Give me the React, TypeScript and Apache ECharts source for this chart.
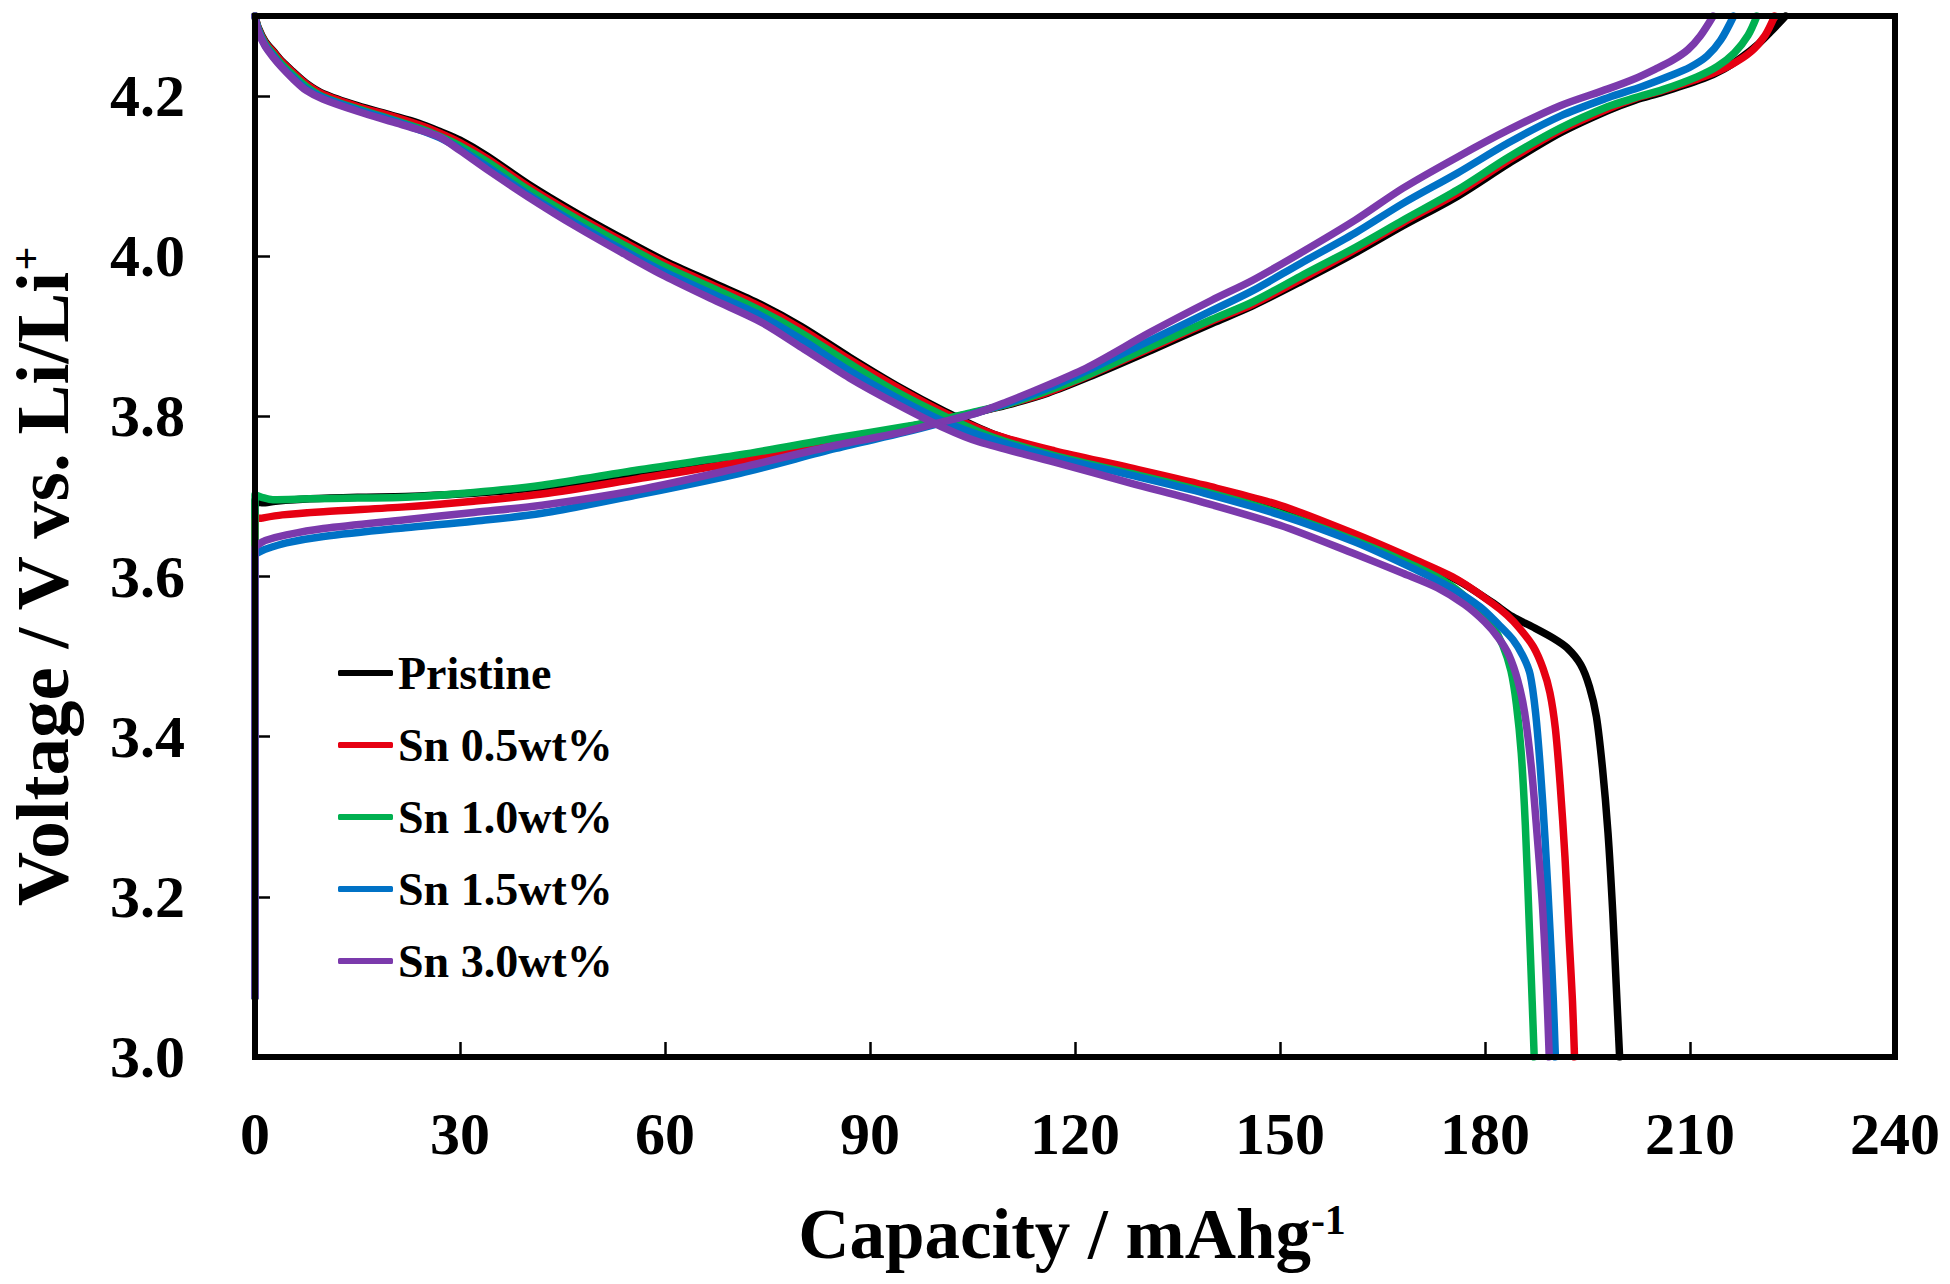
import React, { useEffect, useRef } from "react";
import * as echarts from "echarts";

// ---- tick values ----
const xTicks = [0, 30, 60, 90, 120, 150, 180, 210, 240];
const yTicks = [3.0, 3.2, 3.4, 3.6, 3.8, 4.0, 4.2];

// ---- sample names & colours ----
const sampleNames = ["Pristine", "Sn 0.5wt%", "Sn 1.0wt%", "Sn 1.5wt%", "Sn 3.0wt%"];
const sampleColors = ["#000000", "#e60012", "#00b050", "#0072c6", "#7b3aac"];

// ---- charge curves [capacity, voltage] ----
const pristineCharge = [[0,3.075],[0,3.695],[1,3.692],[3,3.694],[8,3.697],[15,3.699],[22,3.700],[30,3.703],[38,3.708],[45,3.715],[55,3.728],[65,3.741],[75,3.756],[85,3.771],[95,3.786],[100,3.795],[105,3.804],[110,3.814],[116,3.829],[122,3.849],[131,3.882],[140,3.916],[146,3.938],[153,3.968],[161,4.004],[168,4.038],[176,4.075],[183.5,4.116],[191,4.154],[198,4.182],[202,4.195],[206,4.205],[212,4.222],[215,4.234],[217.5,4.248],[220,4.265],[222,4.282],[224,4.300]];
const sn05Charge = [[0,3.075],[0,3.671],[1,3.673],[4,3.677],[10,3.681],[22,3.687],[32,3.694],[42,3.703],[56,3.722],[71,3.743],[85,3.766],[95,3.783],[100,3.793],[105,3.804],[110,3.815],[116,3.830],[122,3.851],[131,3.885],[140,3.919],[146,3.940],[153,3.971],[161,4.008],[168,4.042],[176,4.079],[183.5,4.120],[191,4.157],[198,4.184],[202,4.197],[206,4.207],[212,4.224],[216,4.239],[219,4.256],[221,4.276],[222.4,4.300]];
const sn10Charge = [[0,3.075],[0,3.702],[1,3.699],[2.6,3.696],[8,3.697],[15,3.698],[22,3.699],[32,3.705],[42,3.714],[56,3.733],[71,3.752],[85,3.773],[95,3.787],[100,3.795],[105,3.805],[110,3.815],[116,3.832],[122,3.852],[131,3.887],[140,3.921],[146,3.943],[153,3.975],[161,4.011],[168,4.045],[176,4.083],[183.5,4.124],[191,4.160],[198,4.187],[202,4.198],[206,4.208],[211,4.224],[214,4.237],[216.5,4.254],[218.5,4.276],[219.8,4.300]];
const sn15Charge = [[0,3.075],[0,3.627],[0.5,3.630],[1.5,3.634],[4.6,3.642],[10,3.650],[22,3.661],[32,3.669],[42,3.679],[56,3.702],[71,3.729],[85,3.760],[95,3.780],[100,3.791],[105,3.803],[110,3.816],[116,3.835],[122,3.858],[131,3.895],[140,3.932],[146,3.957],[153,3.991],[161,4.029],[168,4.066],[176,4.104],[183.5,4.142],[191,4.175],[198,4.198],[203,4.212],[207,4.225],[210,4.236],[212.5,4.250],[214.5,4.270],[216.4,4.300]];
const sn30Charge = [[0,3.075],[0,3.636],[0.5,3.640],[1.5,3.645],[4.6,3.652],[10,3.660],[22,3.671],[32,3.680],[42,3.689],[56,3.708],[71,3.736],[85,3.764],[94,3.779],[100,3.792],[105.6,3.804],[110,3.818],[116,3.839],[122,3.862],[131,3.905],[140,3.945],[146,3.970],[153,4.004],[161,4.045],[168,4.085],[176,4.124],[183.5,4.158],[191,4.188],[198,4.209],[202,4.222],[205,4.234],[207.5,4.245],[209.7,4.258],[211.5,4.275],[213.4,4.300]];

// ---- discharge curves [capacity, voltage] ----
const pristineDischarge = [[0,4.300],[0.5,4.285],[1.5,4.268],[2.7,4.256],[4,4.243],[5.5,4.231],[7.5,4.216],[10,4.203],[15,4.188],[20,4.176],[24,4.166],[27,4.156],[30,4.145],[34,4.125],[40,4.090],[47,4.054],[54,4.021],[60,3.994],[67,3.967],[74,3.940],[80,3.912],[87,3.874],[94,3.838],[101,3.806],[108,3.778],[117,3.755],[128,3.733],[139,3.711],[150,3.686],[161,3.650],[170,3.618],[176,3.595],[181,3.568],[184,3.550],[187,3.537],[190,3.523],[192,3.511],[194,3.490],[195.3,3.462],[196.3,3.425],[197.2,3.36],[198,3.28],[198.7,3.18],[199.2,3.09],[199.7,3.0]];
const sn05Discharge = [[0,4.300],[0.5,4.284],[1.5,4.267],[2.7,4.255],[4,4.242],[5.5,4.230],[7.5,4.215],[10,4.202],[15,4.187],[20,4.175],[24,4.164],[27,4.154],[30,4.142],[34,4.122],[40,4.087],[47,4.051],[54,4.018],[60,3.991],[67,3.964],[74,3.937],[80,3.909],[87,3.871],[94,3.836],[101,3.804],[108,3.778],[117,3.757],[128,3.736],[139,3.714],[150,3.689],[161,3.653],[170,3.620],[176,3.596],[181,3.567],[183.2,3.552],[185,3.536],[187.1,3.512],[188.5,3.485],[189.5,3.455],[190.3,3.41],[191,3.34],[191.7,3.25],[192.3,3.15],[192.8,3.07],[193.1,3.0]];
const sn10Discharge = [[0,4.300],[0.5,4.283],[1.5,4.265],[2.7,4.252],[4,4.239],[5.5,4.227],[7.5,4.212],[10,4.199],[15,4.184],[20,4.171],[24,4.160],[27,4.150],[30,4.138],[34,4.118],[40,4.083],[47,4.047],[54,4.014],[60,3.987],[67,3.960],[74,3.932],[80,3.904],[87,3.866],[94,3.830],[101,3.800],[108,3.774],[117,3.751],[128,3.729],[139,3.706],[150,3.679],[161,3.645],[170,3.612],[175,3.589],[179,3.560],[181,3.540],[182.6,3.514],[183.8,3.482],[184.6,3.44],[185.3,3.38],[185.9,3.29],[186.5,3.16],[186.9,3.07],[187.2,3.0]];
const sn15Discharge = [[0,4.300],[0.5,4.282],[1.5,4.263],[2.7,4.250],[4,4.236],[5.5,4.224],[7.5,4.209],[10,4.198],[15,4.183],[20,4.170],[24,4.158],[27,4.148],[30,4.134],[34,4.112],[40,4.077],[47,4.041],[54,4.007],[60,3.980],[67,3.953],[74,3.926],[80,3.896],[87,3.857],[94,3.823],[101,3.793],[108,3.771],[117,3.749],[128,3.727],[139,3.704],[150,3.677],[161,3.643],[170,3.608],[175,3.586],[179.3,3.562],[182,3.540],[184.1,3.521],[185.6,3.500],[186.6,3.478],[187.4,3.43],[188.1,3.36],[188.8,3.27],[189.5,3.16],[190,3.07],[190.3,3.0]];
const sn30Discharge = [[0,4.300],[0.5,4.280],[1.5,4.262],[2.7,4.248],[4,4.235],[5.5,4.222],[7.5,4.207],[10,4.196],[15,4.181],[20,4.168],[24,4.158],[27,4.149],[30,4.132],[34,4.108],[40,4.074],[47,4.037],[54,4.003],[60,3.975],[67,3.946],[74,3.918],[80,3.886],[87,3.848],[94,3.815],[101,3.785],[106,3.768],[117,3.743],[128,3.717],[139,3.692],[150,3.664],[161,3.628],[168,3.604],[173,3.586],[177,3.565],[180,3.543],[182,3.523],[183.5,3.502],[184.8,3.47],[185.8,3.43],[186.8,3.36],[187.6,3.28],[188.4,3.19],[189,3.09],[189.4,3.0]];

const chargeCurves = [pristineCharge, sn05Charge, sn10Charge, sn15Charge, sn30Charge];
const dischargeCurves = [pristineDischarge, sn05Discharge, sn10Discharge, sn15Discharge, sn30Discharge];

const FONT = "'Liberation Serif', 'Times New Roman', serif";

export default function App() {
  const ref = useRef<HTMLDivElement>(null);

  useEffect(() => {
    document.body.style.margin = "0";
    if (!ref.current) return;
    const chart = echarts.init(ref.current, null, { renderer: "svg" });

    const series: any[] = [];
    sampleNames.forEach((name, i) => {
      [chargeCurves[i], dischargeCurves[i]].forEach((data) => {
        series.push({
          type: "line",
          name,
          data,
          showSymbol: false,
          symbol: "none",
          smooth: 0.3,
          color: sampleColors[i],
          itemStyle: { color: sampleColors[i] },
          lineStyle: { color: sampleColors[i], width: 7.5, cap: "round", join: "round" },
          z: 2 + i,
        });
      });
    });

    chart.setOption({
      animation: false,
      backgroundColor: "#ffffff",
      grid: {
        left: 255,
        top: 16,
        width: 1640,
        height: 1041,
        show: true,
        borderColor: "#000",
        borderWidth: 6,
        backgroundColor: "transparent",
        z: 10,
      },
      legend: {
        orient: "vertical",
        left: 333,
        top: 645,
        itemWidth: 55,
        itemHeight: 6,
        itemGap: 26,
        icon: "roundRect",
        selectedMode: false,
        itemStyle: { borderWidth: 0 },
        data: sampleNames,
        textStyle: {
          fontFamily: FONT,
          fontWeight: "bold",
          fontSize: 46,
          lineHeight: 45,
          color: "#000",
        },
      },
      xAxis: {
        type: "value",
        min: xTicks[0],
        max: xTicks[xTicks.length - 1],
        interval: xTicks[1] - xTicks[0],
        axisLine: { show: true, onZero: false, lineStyle: { color: "#000", width: 6 } },
        axisTick: { show: true, inside: true, length: 15, lineStyle: { color: "#000", width: 2.5 } },
        splitLine: { show: false },
        axisLabel: {
          margin: 47,
          fontFamily: FONT,
          fontWeight: "bold",
          fontSize: 60,
          color: "#000",
        },
      },
      yAxis: {
        type: "value",
        min: yTicks[0],
        max: 4.3,
        interval: 0.2,
        axisLine: { show: true, onZero: false, lineStyle: { color: "#000", width: 6 } },
        axisTick: { show: true, inside: true, length: 15, lineStyle: { color: "#000", width: 2.5 } },
        splitLine: { show: false },
        axisLabel: {
          margin: 70,
          showMaxLabel: false,
          fontFamily: FONT,
          fontWeight: "bold",
          fontSize: 60,
          color: "#000",
          formatter: (v: number) => (yTicks.some((t) => Math.abs(t - v) < 1e-6) ? v.toFixed(1) : ""),
        },
      },
      graphic: [
        {
          type: "text",
          x: 1072,
          y: 1234,
          style: {
            text: "{a|Capacity / mAhg}{s|-1}",
            align: "center",
            verticalAlign: "middle",
            fill: "#000",
            rich: {
              a: { fontFamily: FONT, fontWeight: "bold", fontSize: 71, lineHeight: 71, fill: "#000" },
              s: { fontFamily: FONT, fontWeight: "bold", fontSize: 42, lineHeight: 42, verticalAlign: "top", fill: "#000" },
            },
          },
        },
        {
          type: "text",
          x: 42,
          y: 577,
          rotation: Math.PI / 2,
          style: {
            text: "{a|Voltage / V vs. Li/Li}{s|+}",
            align: "center",
            verticalAlign: "middle",
            fill: "#000",
            rich: {
              a: { fontFamily: FONT, fontWeight: "bold", fontSize: 75, lineHeight: 75, fill: "#000" },
              s: { fontFamily: FONT, fontWeight: "bold", fontSize: 42, lineHeight: 42, verticalAlign: "top", fill: "#000" },
            },
          },
        },
      ],
      series,
    });

    return () => {
      chart.dispose();
    };
  }, []);

  return <div ref={ref} style={{ width: 1950, height: 1284 }} />;
}
